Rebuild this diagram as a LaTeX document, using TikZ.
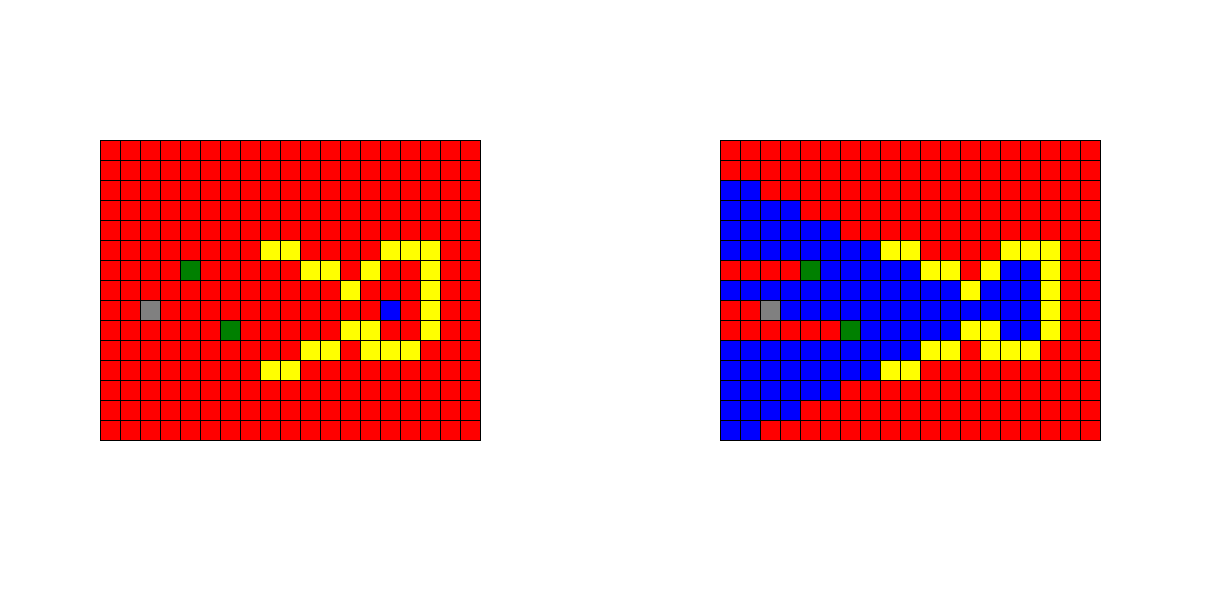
\documentclass[tikz,border=0pt]{standalone}
\usepackage{xcolor}
\usepackage{tikz}
\definecolor{cellR}{HTML}{FF0000}
\definecolor{cellY}{HTML}{FFFF00}
\definecolor{cellG}{HTML}{008000}
\definecolor{cellB}{HTML}{0000FF}
\definecolor{cellK}{HTML}{808080}

\begin{document}
\begin{tikzpicture}[x=0.5cm,y=0.5cm, cell/.style={draw=black, line width=0.6pt}]
  \useasboundingbox (0,0) rectangle (61,30);
  % left grid: before the fill
  \begin{scope}[shift={(5,23)}]
    \foreach \row [count=\rowno from 0] in {
      {R,R,R,R,R,R,R,R,R,R,R,R,R,R,R,R,R,R,R},
      {R,R,R,R,R,R,R,R,R,R,R,R,R,R,R,R,R,R,R},
      {R,R,R,R,R,R,R,R,R,R,R,R,R,R,R,R,R,R,R},
      {R,R,R,R,R,R,R,R,R,R,R,R,R,R,R,R,R,R,R},
      {R,R,R,R,R,R,R,R,R,R,R,R,R,R,R,R,R,R,R},
      {R,R,R,R,R,R,R,R,Y,Y,R,R,R,R,Y,Y,Y,R,R},
      {R,R,R,R,G,R,R,R,R,R,Y,Y,R,Y,R,R,Y,R,R},
      {R,R,R,R,R,R,R,R,R,R,R,R,Y,R,R,R,Y,R,R},
      {R,R,K,R,R,R,R,R,R,R,R,R,R,R,B,R,Y,R,R},
      {R,R,R,R,R,R,G,R,R,R,R,R,Y,Y,R,R,Y,R,R},
      {R,R,R,R,R,R,R,R,R,R,Y,Y,R,Y,Y,Y,R,R,R},
      {R,R,R,R,R,R,R,R,Y,Y,R,R,R,R,R,R,R,R,R},
      {R,R,R,R,R,R,R,R,R,R,R,R,R,R,R,R,R,R,R},
      {R,R,R,R,R,R,R,R,R,R,R,R,R,R,R,R,R,R,R},
      {R,R,R,R,R,R,R,R,R,R,R,R,R,R,R,R,R,R,R}} {
      \foreach \c [count=\colno from 0] in \row
        \draw[cell, fill=cell\c] (\colno,-\rowno) rectangle ++(1,-1);
    }
  \end{scope}
  % right grid: after the fill
  \begin{scope}[shift={(36,23)}]
    \foreach \row [count=\rowno from 0] in {
      {R,R,R,R,R,R,R,R,R,R,R,R,R,R,R,R,R,R,R},
      {R,R,R,R,R,R,R,R,R,R,R,R,R,R,R,R,R,R,R},
      {B,B,R,R,R,R,R,R,R,R,R,R,R,R,R,R,R,R,R},
      {B,B,B,B,R,R,R,R,R,R,R,R,R,R,R,R,R,R,R},
      {B,B,B,B,B,B,R,R,R,R,R,R,R,R,R,R,R,R,R},
      {B,B,B,B,B,B,B,B,Y,Y,R,R,R,R,Y,Y,Y,R,R},
      {R,R,R,R,G,B,B,B,B,B,Y,Y,R,Y,B,B,Y,R,R},
      {B,B,B,B,B,B,B,B,B,B,B,B,Y,B,B,B,Y,R,R},
      {R,R,K,B,B,B,B,B,B,B,B,B,B,B,B,B,Y,R,R},
      {R,R,R,R,R,R,G,B,B,B,B,B,Y,Y,B,B,Y,R,R},
      {B,B,B,B,B,B,B,B,B,B,Y,Y,R,Y,Y,Y,R,R,R},
      {B,B,B,B,B,B,B,B,Y,Y,R,R,R,R,R,R,R,R,R},
      {B,B,B,B,B,B,R,R,R,R,R,R,R,R,R,R,R,R,R},
      {B,B,B,B,R,R,R,R,R,R,R,R,R,R,R,R,R,R,R},
      {B,B,R,R,R,R,R,R,R,R,R,R,R,R,R,R,R,R,R}} {
      \foreach \c [count=\colno from 0] in \row
        \draw[cell, fill=cell\c] (\colno,-\rowno) rectangle ++(1,-1);
    }
  \end{scope}
\end{tikzpicture}
\end{document}
